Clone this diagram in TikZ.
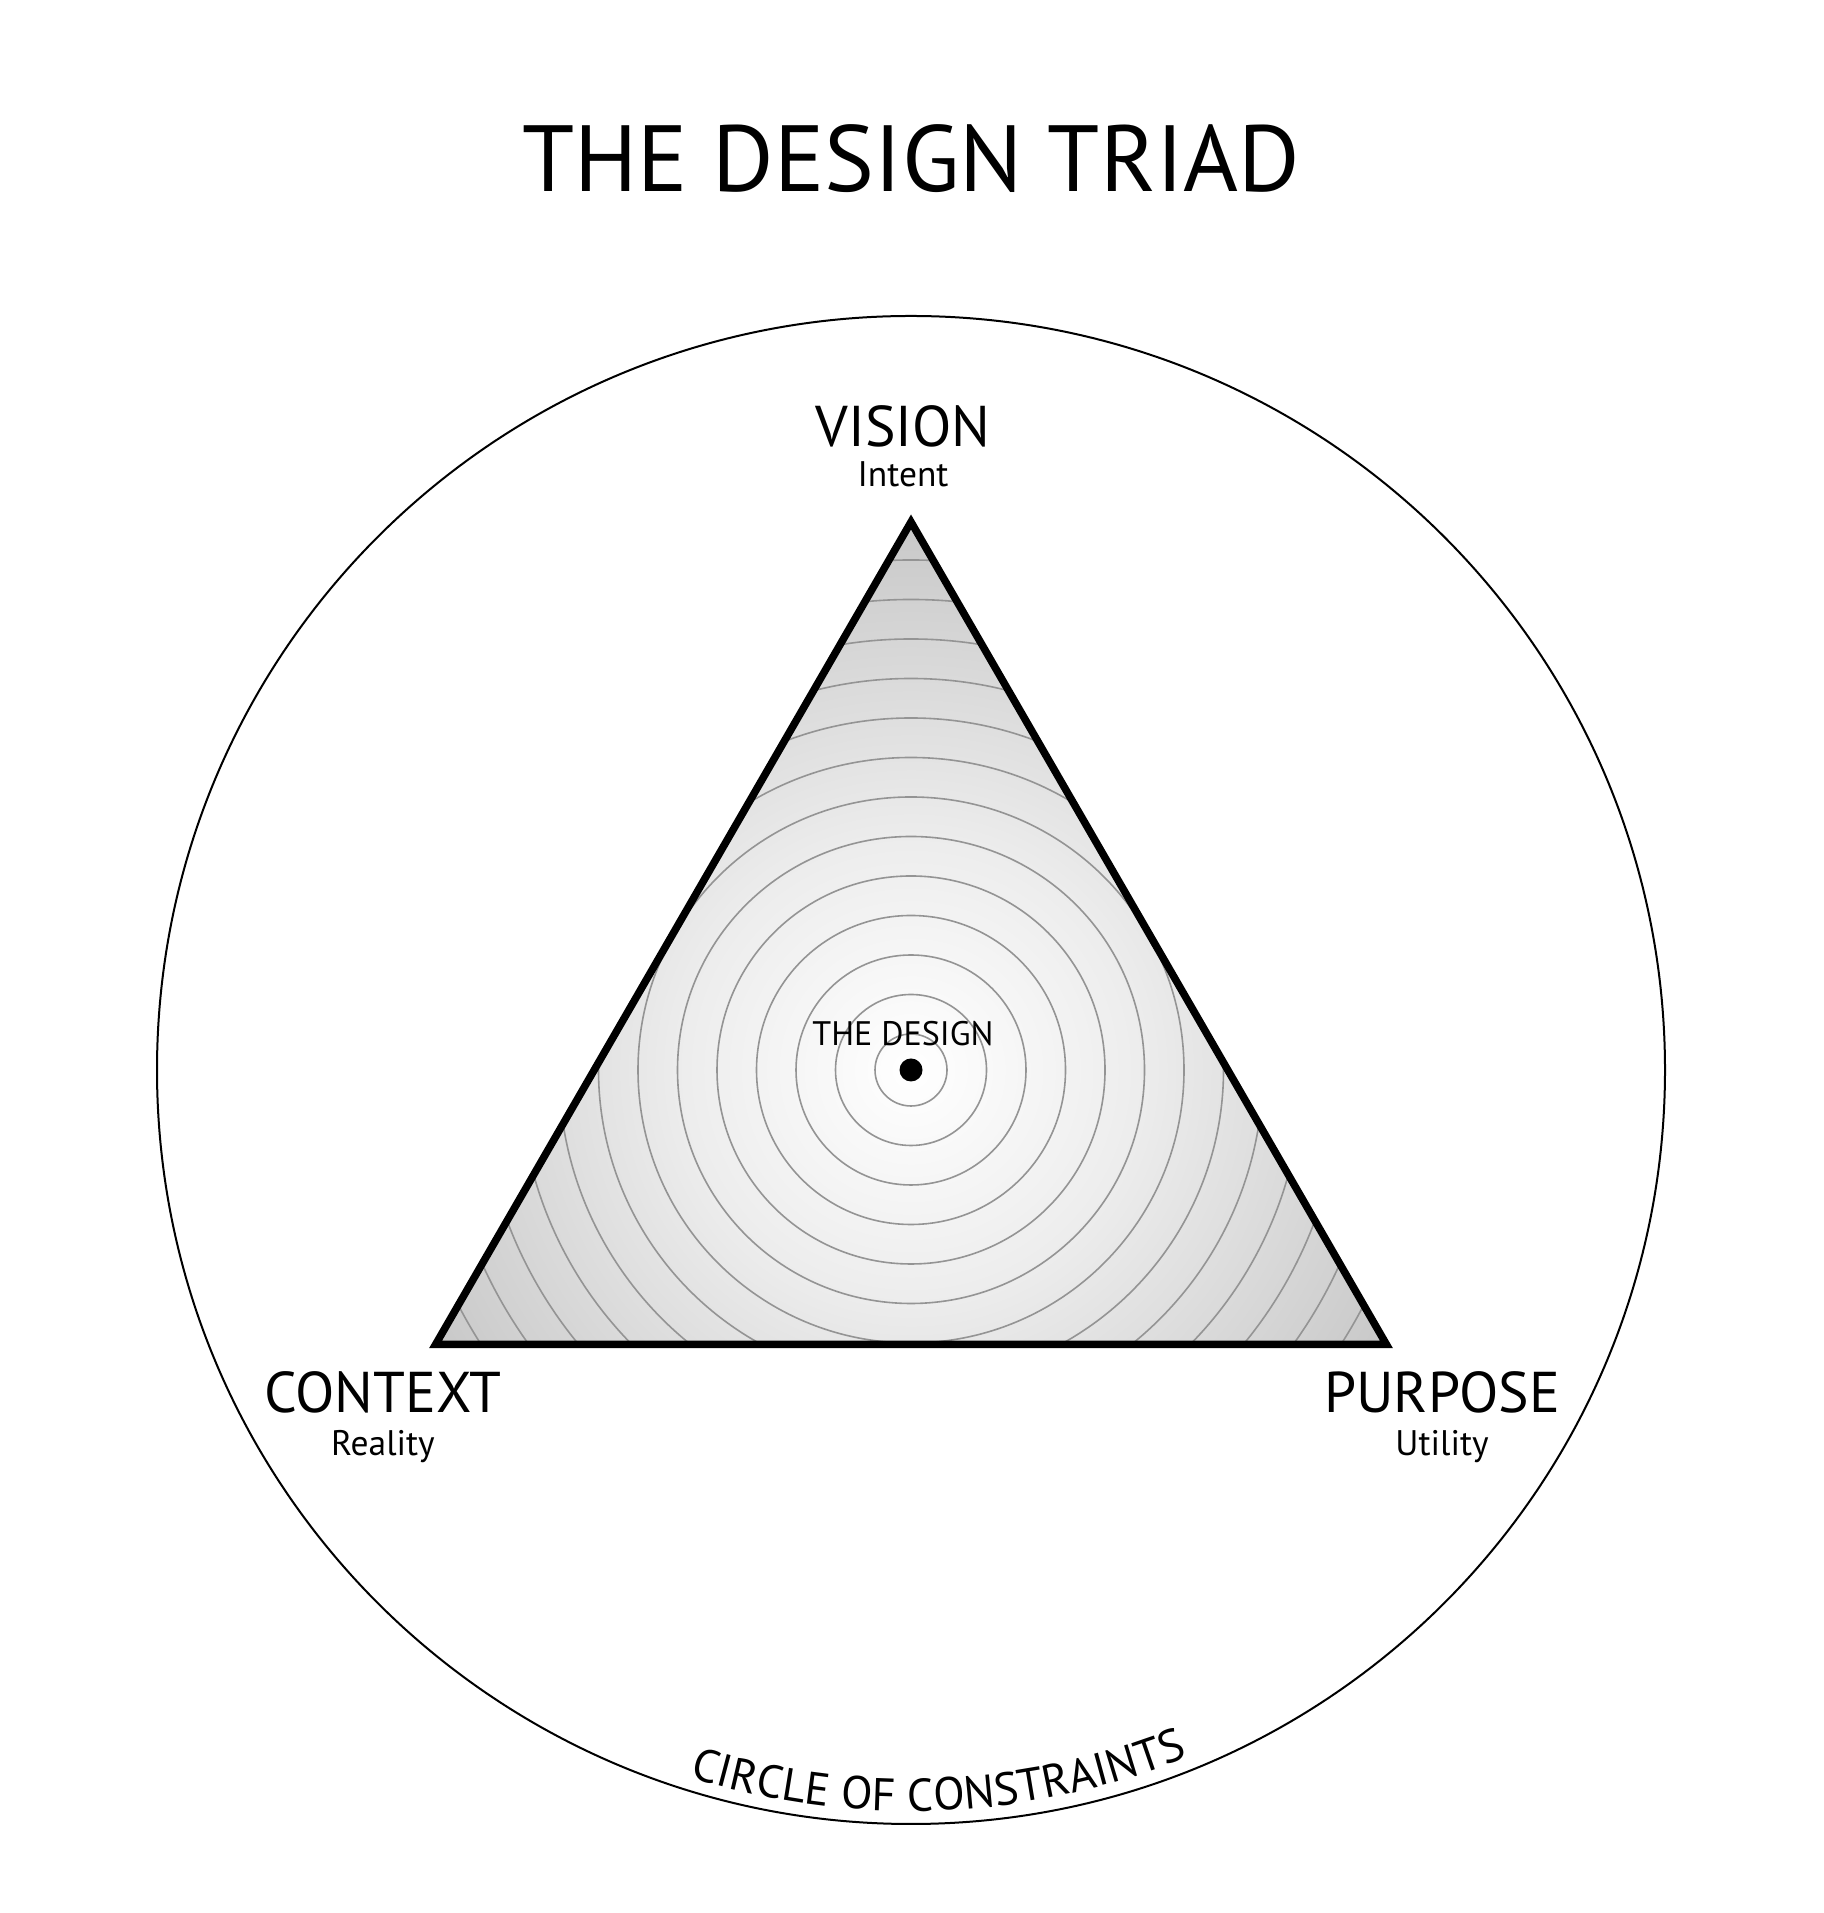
\documentclass[tikz,border=0pt]{standalone}
\usepackage{fontspec}
\setmainfont{PT Sans}
\usetikzlibrary{decorations.text}
\definecolor{edgegray}{gray}{0.62}
\definecolor{midgray}{gray}{0.78}
\definecolor{innergray}{gray}{0.93}
\definecolor{ringgray}{gray}{0.58}
\pgfdeclareradialshading{triadshade}{\pgfpointorigin}{color(0bp)=(white); color(10bp)=(innergray); color(25bp)=(midgray); color(49bp)=(edgegray); color(50bp)=(edgegray)}
\newcommand{\titlefont}{\fontsize{94}{110}\selectfont}
\newcommand{\cornerfont}{\fontsize{57.5}{66}\selectfont}
\newcommand{\subfont}{\fontsize{35.5}{42}\selectfont}
\newcommand{\centerfont}{\fontsize{34}{40}\selectfont}
\newcommand{\constrfont}{\fontsize{46}{50}\selectfont}
\begin{document}
\begin{tikzpicture}[x=1pt,y=1pt,
  lbl/.style={anchor=base, inner sep=0pt, text=black},
  ringline/.style={draw=ringgray, line width=1.6},
  triedge/.style={draw=black, line width=7.5, line join=miter},
  outerring/.style={draw=black, line width=2}]
\useasboundingbox (0,0) rectangle (1823,1913);
\coordinate (C) at (911,843);
\path (C) ++(90:548) coordinate (V);
\path (C) ++(210:549) coordinate (L);
\path (C) ++(330:549) coordinate (R);
% outer circle
\draw[outerring] (C) circle[radius=754];
% shaded triangle with rings
\begin{scope}
  \clip (V) -- (L) -- (R) -- cycle;
  \shade[shading=triadshade] (C) circle[radius=560];
  \foreach \k in {0,...,13} \draw[ringline] (C) circle[radius={36+39.5*\k}];
\end{scope}
\draw[triedge] (V) -- (L) -- (R) -- cycle;
\fill[black] (C) circle[radius=11.5];
% texts
\node[lbl, font=\titlefont] (title) at (911,1721) {THE DESIGN TRIAD};
\node[lbl, font=\cornerfont] (vision) at (903,1466) {VISION};
\node[lbl, font=\subfont] (intent) at (903,1426) {Intent};
\node[lbl, font=\cornerfont] (context) at (383,500) {CONTEXT};
\node[lbl, font=\subfont] (reality) at (383,457) {Reality};
\node[lbl, font=\cornerfont] (purpose) at (1442,500) {PURPOSE};
\node[lbl, font=\subfont] (utility) at (1442,457) {Utility};
\node[lbl, font=\centerfont] (design) at (903,867) {THE DESIGN};
% circle of constraints
\path[decorate, decoration={text along path, text align=center,
  text={|\constrfont|CIRCLE OF CONSTRAINTS}}]
  (C) ++(252.9:741) arc[start angle=252.9, end angle=291.7, radius=741];
\end{tikzpicture}
\end{document}
